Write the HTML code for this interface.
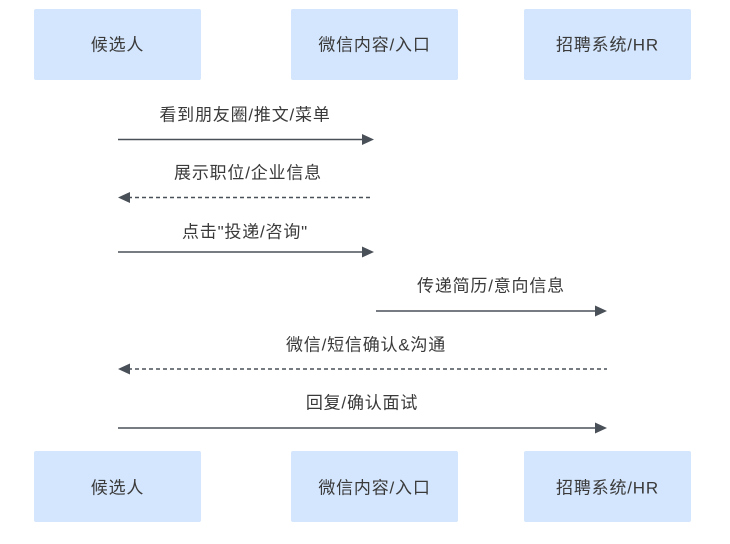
<!DOCTYPE html>
<html><head><meta charset="utf-8"><style>
html,body{margin:0;padding:0;background:#fff;width:730px;height:544px;overflow:hidden}
svg text{font-family:"Liberation Sans","Noto Sans CJK SC",sans-serif;font-size:17px;letter-spacing:0.8px;fill:#3a3a3a;text-anchor:middle;dominant-baseline:central}
</style></head><body>
<svg width="730" height="544" viewBox="0 0 730 544" xmlns="http://www.w3.org/2000/svg">
<g fill="#d4e6fd">
<rect x="34" y="9" width="167" height="71" rx="2"/>
<rect x="291" y="9" width="167" height="71" rx="2"/>
<rect x="524" y="9" width="167" height="71" rx="2"/>
<rect x="34" y="451" width="167" height="71" rx="2"/>
<rect x="291" y="451" width="167" height="71" rx="2"/>
<rect x="524" y="451" width="167" height="71" rx="2"/>
</g>
<text x="117.5" y="45">候选人</text>
<text x="374.5" y="45">微信内容/入口</text>
<text x="607.5" y="45">招聘系统/HR</text>
<text x="117.5" y="488">候选人</text>
<text x="374.5" y="488">微信内容/入口</text>
<text x="607.5" y="488">招聘系统/HR</text>
<g stroke="#4a5058" stroke-width="1.6" fill="none">
<line x1="118" y1="139.5" x2="363" y2="139.5"/>
<line x1="128" y1="197.5" x2="373" y2="197.5" stroke-dasharray="4,3"/>
<line x1="118" y1="252" x2="363" y2="252"/>
<line x1="376" y1="311" x2="596" y2="311"/>
<line x1="128" y1="369" x2="607" y2="369" stroke-dasharray="4,3"/>
<line x1="118" y1="428" x2="596" y2="428"/>
</g>
<g fill="#4a5058">
<polygon points="362,134 374,139.5 362,145"/>
<polygon points="130,192 118,197.5 130,203"/>
<polygon points="362,246.5 374,252 362,257.5"/>
<polygon points="595,305.5 607,311 595,316.5"/>
<polygon points="130,363.5 118,369 130,374.5"/>
<polygon points="595,422.5 607,428 595,433.5"/>
</g>
<text x="245" y="115">看到朋友圈/推文/菜单</text>
<text x="248" y="173">展示职位/企业信息</text>
<text x="245" y="232">点击"投递/咨询"</text>
<text x="491" y="286">传递简历/意向信息</text>
<text x="366" y="345">微信/短信确认&amp;沟通</text>
<text x="362" y="403">回复/确认面试</text>
</svg>
</body></html>
